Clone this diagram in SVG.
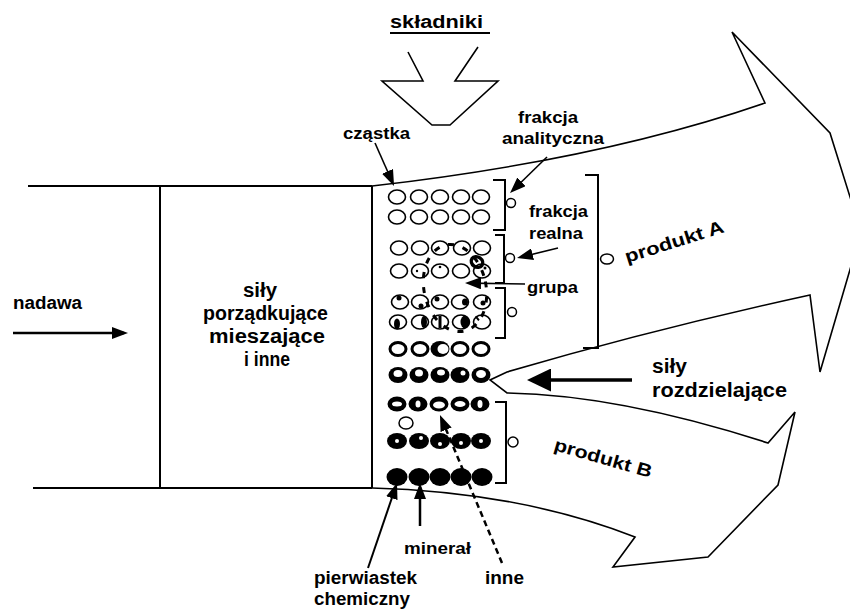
<svg xmlns="http://www.w3.org/2000/svg" width="850" height="610" viewBox="0 0 850 610">
<style>
text{font-family:"Liberation Sans",Arial,sans-serif;font-weight:bold;fill:#000}
.ln{fill:none;stroke:#000;stroke-width:2}
.thin{fill:none;stroke:#000;stroke-width:1.6}
.oc{fill:#fff;stroke:#000;stroke-width:1.6}
.tc{fill:#fff;stroke:#000;stroke-width:3}
.bk{fill:#000}
.wh{fill:#fff}
.sm{fill:#fff;stroke:#000;stroke-width:1.5}
.ar{fill:none;stroke:#000;stroke-width:1.6;marker-end:url(#ah)}
</style>
<defs>
<marker id="ah" markerUnits="userSpaceOnUse" markerWidth="16" markerHeight="12" viewBox="0 0 16 12" refX="12" refY="6" orient="auto"><path d="M0,0 L16,6 L0,12 z" fill="#000"/></marker>
<marker id="ahBig" markerUnits="userSpaceOnUse" markerWidth="24" markerHeight="23" viewBox="0 0 24 23" refX="20" refY="11.5" orient="auto"><path d="M0,0 L24,11.5 L0,23 z" fill="#000"/></marker>
</defs>

<g id="vessel">
<line class="ln" x1="28" y1="186" x2="372" y2="186"/>
<line class="ln" x1="33" y1="488" x2="372" y2="488"/>
<line class="ln" x1="160" y1="186" x2="160" y2="488"/>
<line class="ln" x1="372" y1="186" x2="372" y2="488"/>
</g>

<g id="outflow">
<path class="thin" d="M372,186 Q600,160 765,103 L732,32 L830,133 L861,232 L820,372 L810,295 Q650,330 507,372 L490,380 L507,393 Q620,395 768,443 L795,412 L778,485 L708,557 L613,567 L635,537 Q520,492 372,488"/>
</g>

<g id="inlet">
<path class="thin" d="M408,52 L423,81 L382,81 L432,125 L450,125 L498,81 L455,81 L478,47"/>
</g>

<g id="particles">
<ellipse class="oc" cx="397" cy="197" rx="8.5" ry="7"/><ellipse class="oc" cx="419" cy="197" rx="8.5" ry="7"/><ellipse class="oc" cx="440" cy="197" rx="8.5" ry="7"/><ellipse class="oc" cx="461" cy="197" rx="8.5" ry="7"/><ellipse class="oc" cx="481" cy="197" rx="8.5" ry="7"/>
<ellipse class="oc" cx="397" cy="217" rx="8.5" ry="7"/><ellipse class="oc" cx="419" cy="217" rx="8.5" ry="7"/><ellipse class="oc" cx="440" cy="217" rx="8.5" ry="7"/><ellipse class="oc" cx="461" cy="217" rx="8.5" ry="7"/><ellipse class="oc" cx="481" cy="217" rx="8.5" ry="7"/>
<ellipse class="oc" cx="399" cy="248" rx="8.5" ry="7"/><ellipse class="oc" cx="420" cy="248" rx="8.5" ry="7"/><ellipse class="oc" cx="440" cy="248" rx="8.5" ry="7"/><ellipse class="oc" cx="462" cy="248" rx="8.5" ry="7"/><ellipse class="oc" cx="482" cy="248" rx="8.5" ry="7"/>
<ellipse class="oc" cx="399" cy="271" rx="8.5" ry="7"/><ellipse class="oc" cx="420" cy="271" rx="8.5" ry="7"/><ellipse class="oc" cx="440" cy="271" rx="8.5" ry="7"/><ellipse class="oc" cx="461" cy="271" rx="8.5" ry="7"/><ellipse class="oc" cx="482" cy="271" rx="8.5" ry="7"/>
<circle class="bk" cx="417" cy="271" r="1.2"/><circle class="bk" cx="440" cy="267" r="1.3"/><circle class="bk" cx="485" cy="268" r="1.5"/>
<ellipse class="oc" cx="400" cy="302" rx="8.5" ry="7"/><ellipse class="oc" cx="420" cy="302" rx="8.5" ry="7"/><ellipse class="oc" cx="440" cy="302" rx="8.5" ry="7"/><ellipse class="oc" cx="460" cy="302" rx="8.5" ry="7"/><ellipse class="oc" cx="482" cy="302" rx="8.5" ry="7"/>
<circle class="bk" cx="399" cy="298" r="2.5"/><circle class="bk" cx="421" cy="306" r="2.5"/><circle class="bk" cx="437" cy="299" r="2.5"/><ellipse class="bk" cx="465" cy="302" rx="3" ry="3.5"/><circle class="bk" cx="483" cy="303" r="2.5"/>
<ellipse class="oc" cx="398" cy="322" rx="8.5" ry="7"/><ellipse class="oc" cx="420" cy="322" rx="8.5" ry="7"/><ellipse class="oc" cx="440" cy="322" rx="8.5" ry="7"/><ellipse class="oc" cx="461" cy="322" rx="8.5" ry="7"/><ellipse class="oc" cx="482" cy="322" rx="8.5" ry="7"/>
<ellipse class="bk" cx="397" cy="324" rx="3" ry="5.5"/><ellipse class="bk" cx="424" cy="322" rx="3" ry="6"/><rect class="bk" x="438.5" y="316" width="3" height="12"/><ellipse class="bk" cx="465" cy="322" rx="4.5" ry="6.5"/><rect class="bk" x="476" y="316" width="2" height="5" transform="rotate(-40 477 318)"/>
<ellipse class="tc" cx="398" cy="349" rx="8" ry="6.5"/><ellipse class="tc" cx="420" cy="349" rx="8" ry="6.5"/><ellipse class="bk" cx="440" cy="349" rx="9.5" ry="8"/><ellipse class="wh" cx="443" cy="349" rx="5.5" ry="5"/><ellipse class="tc" cx="460" cy="349" rx="8" ry="6.5"/><ellipse class="tc" cx="481" cy="349" rx="8" ry="6.5"/>
<ellipse class="bk" cx="398" cy="375" rx="9.5" ry="8"/><ellipse class="wh" cx="398" cy="373.5" rx="4.5" ry="3.5"/>
<ellipse class="bk" cx="419" cy="375" rx="9.5" ry="8"/><ellipse class="wh" cx="419" cy="373" rx="4" ry="3.5"/>
<ellipse class="bk" cx="440" cy="375" rx="9.5" ry="8"/><ellipse class="wh" cx="441" cy="372.5" rx="4" ry="3"/>
<ellipse class="bk" cx="460" cy="375" rx="9.5" ry="8"/><ellipse class="wh" cx="463" cy="373" rx="2.5" ry="2.5"/>
<ellipse class="bk" cx="481" cy="375" rx="9.5" ry="8"/><ellipse class="wh" cx="481" cy="374" rx="5" ry="4"/>
<ellipse class="bk" cx="397" cy="404" rx="9.5" ry="7.5"/><ellipse class="wh" cx="397" cy="404" rx="5" ry="2.5"/>
<ellipse class="bk" cx="418" cy="404" rx="9.5" ry="7.5"/><ellipse class="wh" cx="418" cy="404" rx="2.5" ry="3.5"/>
<ellipse class="bk" cx="439" cy="404" rx="9.5" ry="7.5"/><ellipse class="wh" cx="439" cy="405" rx="6" ry="3.5"/>
<ellipse class="bk" cx="460" cy="404" rx="9.5" ry="7.5"/><ellipse class="wh" cx="460" cy="404" rx="5.5" ry="3"/>
<ellipse class="bk" cx="480" cy="404" rx="9.5" ry="7.5"/><ellipse class="wh" cx="480" cy="404" rx="2.5" ry="4"/>
<ellipse class="sm" cx="406" cy="423" rx="7" ry="6"/>
<ellipse class="bk" cx="397" cy="441" rx="10" ry="8"/><circle class="wh" cx="397" cy="441" r="2"/>
<ellipse class="bk" cx="419" cy="441" rx="10" ry="8"/><circle class="wh" cx="421" cy="438" r="2"/>
<ellipse class="bk" cx="440" cy="441" rx="10" ry="8"/><circle class="wh" cx="440" cy="444" r="2"/>
<ellipse class="bk" cx="461" cy="441" rx="10" ry="8"/><circle class="wh" cx="461" cy="443" r="2"/>
<ellipse class="bk" cx="481" cy="441" rx="10" ry="8"/><circle class="wh" cx="481" cy="441" r="2"/>
<ellipse class="bk" cx="397" cy="477" rx="10.5" ry="9"/><ellipse class="bk" cx="419" cy="477" rx="10.5" ry="9"/><ellipse class="bk" cx="440" cy="477" rx="10.5" ry="9"/><ellipse class="bk" cx="461" cy="477" rx="10.5" ry="9"/><ellipse class="bk" cx="482" cy="477" rx="10.5" ry="9"/>
</g>

<g id="group-outline">
<ellipse cx="455" cy="288" rx="31" ry="44" transform="rotate(-12 455 288)" fill="none" stroke="#000" stroke-width="3" stroke-dasharray="6 9"/>
<ellipse cx="477" cy="262" rx="6" ry="5" transform="rotate(35 477 262)" fill="none" stroke="#000" stroke-width="3.5"/>
</g>

<g id="brackets">
<path class="ln" d="M493,180 H505 V230 H493"/>
<path class="ln" d="M495,235 H504 V283 H495"/>
<path class="ln" d="M495,288 H505 V338 H495"/>
<path class="ln" d="M585,175 H598 V348 H583"/>
<path class="ln" d="M495,402 H506 V483 H495"/>
<circle class="sm" cx="511" cy="203" r="4.5"/>
<circle class="sm" cx="510" cy="258" r="4.5"/>
<circle class="sm" cx="512" cy="312" r="4.5"/>
<ellipse class="sm" cx="607" cy="259" rx="6.5" ry="5"/>
<circle class="sm" cx="513" cy="442" r="5"/>
</g>

<g id="connectors">
<line x1="13" y1="333" x2="124" y2="333" fill="none" stroke="#000" stroke-width="2.7" marker-end="url(#ah)"/>
<line x1="632" y1="380" x2="531" y2="380" fill="none" stroke="#000" stroke-width="3.5" marker-end="url(#ahBig)"/>
<line class="ar" x1="375" y1="143" x2="392.4" y2="182.3"/>
<line class="ar" x1="547" y1="157" x2="512.9" y2="190.2"/>
<line class="ar" x1="558" y1="248" x2="520.9" y2="257.1"/>
<line class="ar" x1="525" y1="284" x2="469" y2="283.1"/>
<line class="ar" x1="368" y1="568" x2="395.7" y2="486.8" style="stroke-width:2"/>
<line x1="420" y1="526" x2="420" y2="487" fill="none" stroke="#000" stroke-width="2.5" marker-end="url(#ah)"/>
<line x1="502" y1="563" x2="441.5" y2="418.7" fill="none" stroke="#000" stroke-width="2.5" stroke-dasharray="6 4" marker-end="url(#ah)"/>
</g>

<g id="labels">
<text x="390" y="28" font-size="18" textLength="93" lengthAdjust="spacingAndGlyphs">składniki</text>
<line x1="390" y1="33" x2="490" y2="33" stroke="#000" stroke-width="2"/>
<text x="343" y="139" font-size="17" textLength="67" lengthAdjust="spacingAndGlyphs">cząstka</text>
<text x="518" y="123" font-size="17" textLength="60" lengthAdjust="spacingAndGlyphs">frakcja</text>
<text x="502" y="144" font-size="17" textLength="102" lengthAdjust="spacingAndGlyphs">analityczna</text>
<text x="529" y="217" font-size="17" textLength="59" lengthAdjust="spacingAndGlyphs">frakcja</text>
<text x="529" y="239" font-size="17" textLength="54" lengthAdjust="spacingAndGlyphs">realna</text>
<text x="527" y="293" font-size="17" textLength="51" lengthAdjust="spacingAndGlyphs">grupa</text>
<text transform="translate(627,263) rotate(-17.5)" font-size="18" textLength="103" lengthAdjust="spacingAndGlyphs">produkt A</text>
<text transform="translate(553,450) rotate(16)" font-size="18" textLength="101" lengthAdjust="spacingAndGlyphs">produkt B</text>
<text x="652" y="373" font-size="20" textLength="35" lengthAdjust="spacingAndGlyphs">siły</text>
<text x="652" y="397" font-size="20" textLength="135" lengthAdjust="spacingAndGlyphs">rozdzielające</text>
<text x="13" y="309" font-size="18" textLength="69" lengthAdjust="spacingAndGlyphs">nadawa</text>
<text x="243" y="297" font-size="20" textLength="34" lengthAdjust="spacingAndGlyphs">siły</text>
<text x="203" y="320" font-size="20" textLength="125" lengthAdjust="spacingAndGlyphs">porządkujące</text>
<text x="209" y="343" font-size="20" textLength="116" lengthAdjust="spacingAndGlyphs">mieszające</text>
<text x="244" y="366" font-size="20" textLength="46" lengthAdjust="spacingAndGlyphs">i inne</text>
<text x="404" y="554" font-size="17" textLength="67" lengthAdjust="spacingAndGlyphs">minerał</text>
<text x="314" y="584" font-size="18" textLength="103" lengthAdjust="spacingAndGlyphs">pierwiastek</text>
<text x="314" y="605" font-size="18" textLength="96" lengthAdjust="spacingAndGlyphs">chemiczny</text>
<text x="485" y="584" font-size="18" textLength="39" lengthAdjust="spacingAndGlyphs">inne</text>
</g>
</svg>
